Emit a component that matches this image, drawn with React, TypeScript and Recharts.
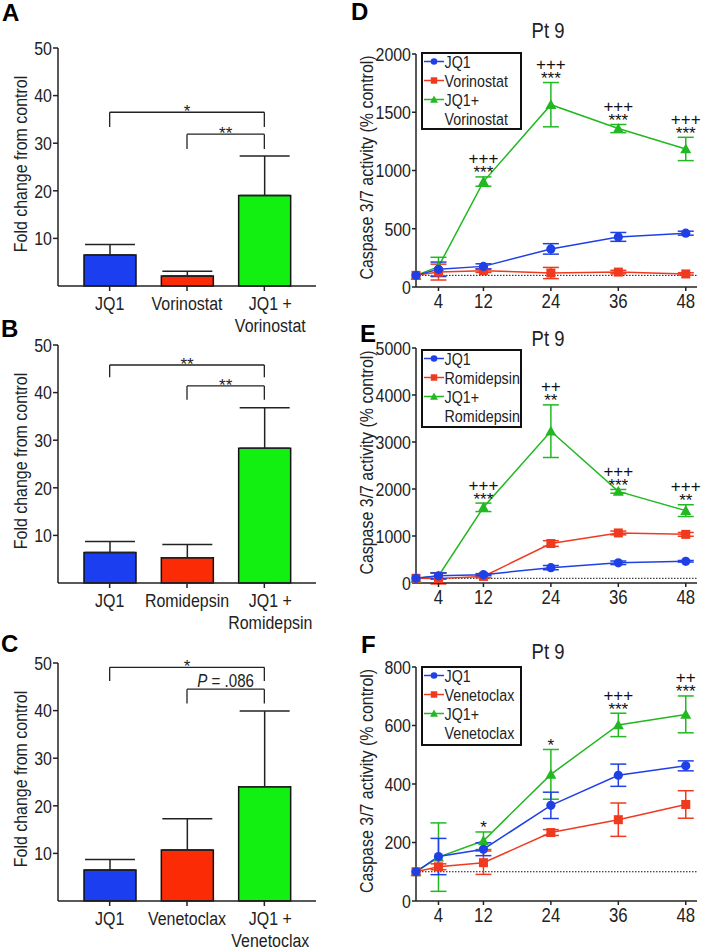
import { Bar, BarChart, Cell, ErrorBar, LabelList, Line, LineChart, ReferenceLine, XAxis, YAxis } from 'recharts';

const SANS = '"Liberation Sans", Arial, sans-serif';
const INK = '#222';
const SX = 0.84; // squeeze Liberation Sans to look like Arial Narrow

// A–C: fold change from control (mean, SEM)
const catsA = ['JQ1', 'Vorinostat', 'JQ1 + Vorinostat'];
const meanA = [6.5, 2.1, 19.0];
const semA = [2.2, 1.0, 8.3];

const catsB = ['JQ1', 'Romidepsin', 'JQ1 + Romidepsin'];
const meanB = [6.4, 5.3, 28.3];
const semB = [2.3, 2.8, 8.5];

const catsC = ['JQ1', 'Venetoclax', 'JQ1 + Venetoclax'];
const meanC = [6.5, 10.7, 24.0];
const semC = [2.2, 6.6, 15.9];

const bracketsA = [
  { from: 0, to: 2, y: 36.5, drop: 3.1, text: '*' },
  { from: 1, to: 2, y: 31.9, drop: 3.1, text: '**' },
];
const bracketsB = [
  { from: 0, to: 2, y: 45.8, drop: 2.6, text: '**' },
  { from: 1, to: 2, y: 41.4, drop: 2.9, text: '**' },
];
const bracketsC = [
  { from: 0, to: 2, y: 49.1, drop: 2.9, text: '*' },
  { from: 1, to: 2, y: 44.5, drop: 3.0, text: 'P = .086' },
];

const barTicks = [10, 20, 30, 40, 50];
const barColors = ['#1b3ef0', '#fb2b05', '#12f012'];

// D–F: caspase 3/7 activity, Pt 9
const hours = [0, 4, 12, 24, 36, 48];
const hourTicks = [4, 12, 24, 36, 48];

const jq1Mean = [100, 152, 177, 327, 430, 462];
const jq1Err = [0, 62, 22, 45, 38, 17];

const vorMean = [100, 128, 140, 120, 128, 112];
const vorErr = [0, 68, 15, 48, 15, 10];
const jq1VorMean = [100, 175, 905, 1565, 1360, 1185];
const jq1VorErr = [0, 80, 40, 190, 35, 100];
const vorPlus = ['', '', '+++', '+++', '+++', '+++'];
const vorStars = ['', '', '***', '***', '***', '***'];

const romiMean = [100, 95, 140, 840, 1065, 1035];
const romiErr = [0, 115, 30, 60, 40, 40];
const jq1RomiMean = [100, 150, 1610, 3230, 1950, 1540];
const jq1RomiErr = [0, 70, 90, 560, 40, 125];
const romiPlus = ['', '', '+++', '++', '+++', '+++'];
const romiStars = ['', '', '***', '**', '***', '**'];

const venMean = [100, 117, 131, 234, 278, 330];
const venErr = [0, 10, 40, 10, 57, 47];
const jq1VenMean = [100, 150, 206, 433, 602, 638];
const jq1VenErr = [0, 117, 30, 85, 40, 63];
const venPlus = ['', '', '', '', '+++', '++'];
const venStars = ['', '', '*', '*', '***', '***'];

const lineColors = ['#1f40e6', '#f03a1f', '#22b822'];
type Shape = 'circle' | 'square' | 'triangle';
const shapes: Shape[] = ['circle', 'square', 'triangle'];

const panelLetters = [
  { t: 'A', x: 2, y: 21 },
  { t: 'B', x: 1, y: 337 },
  { t: 'C', x: 1, y: 652 },
  { t: 'D', x: 351, y: 20 },
  { t: 'E', x: 360, y: 342 },
  { t: 'F', x: 361, y: 653 },
];
const titles = [
  { t: 'Pt 9', y: 38 },
  { t: 'Pt 9', y: 346 },
  { t: 'Pt 9', y: 659 },
];

function NText({ x, y, anchor = 'start', size = 19, dy = 0, rotate = 0, baseline, children }: any) {
  return (
    <text
      transform={`translate(${x},${y}) rotate(${rotate}) scale(${SX},1)`}
      textAnchor={anchor}
      dominantBaseline={baseline}
      dy={dy}
      fontSize={size}
      fontFamily={SANS}
      fill={INK}
    >
      {children}
    </text>
  );
}

const YTick = (p: any) => (
  <NText x={p.x} y={p.y} anchor="end" dy="0.355em">
    {p.payload.value}
  </NText>
);

const XTick = (p: any) => (
  <NText x={p.x} y={p.y} anchor="middle" dy="0.71em" size={20}>
    {p.payload.value}
  </NText>
);

const yLabel = (text: string, cxOff: number, dy: number) => (p: any) => {
  const vb = p.viewBox;
  return (
    <NText x={vb.x + cxOff} y={vb.y + vb.height / 2 + dy} rotate={-90} anchor="middle" baseline="central">
      {text}
    </NText>
  );
};

const CatTick = (p: any) => {
  const label: string = p.payload.value;
  const k = label.indexOf('+');
  const lines = k >= 0 ? [label.slice(0, k + 1), label.slice(k + 1).trim()] : [label];
  const dx = lines.length > 1 ? 6 : 0;
  return (
    <NText x={p.x + dx} y={p.y} anchor="middle">
      {lines.map((l, i) => (
        <tspan key={i} x={0} dy={i === 0 ? 17 : 22}>
          {l}
        </tspan>
      ))}
    </NText>
  );
};

const bracketLabel = (text: string) => (p: any) => {
  const vb = p.viewBox;
  const cx = vb.x + vb.width / 2;
  if (text.startsWith('P')) {
    return (
      <NText x={cx} y={vb.y - 2} anchor="middle" size={18}>
        <tspan fontStyle="italic">P</tspan>
        {text.slice(1)}
      </NText>
    );
  }
  return (
    <text x={cx} y={vb.y + 5} textAnchor="middle" fill={INK} fontSize={17} fontFamily={SANS}>
      {text}
    </text>
  );
};

type Bracket = { from: number; to: number; y: number; drop: number; text: string };

function BarPanel({ cats, mean, sem, brackets, top }: { cats: string[]; mean: number[]; sem: number[]; brackets: Bracket[]; top: number }) {
  const data = cats.map((c, i) => ({ cat: c, v: mean[i], err: [0, sem[i]] }));
  const line = { stroke: INK, strokeWidth: 1.3 };
  return (
    <div style={{ position: 'absolute', left: 0, top }}>
      <BarChart width={330} height={340} data={data} margin={{ top: 48, right: 14, bottom: 10, left: 0 }}>
        <XAxis
          dataKey="cat"
          height={44}
          interval={0}
          padding={{ left: 13, right: 13 }}
          tickSize={5}
          tickMargin={2}
          axisLine={{ stroke: INK, strokeWidth: 1.5 }}
          tickLine={{ stroke: INK, strokeWidth: 1.5 }}
          tick={(t: any) => <CatTick {...t} />}
        />
        <YAxis
          width={58}
          domain={[0, 50]}
          ticks={barTicks}
          tickSize={5}
          tickMargin={1}
          axisLine={{ stroke: INK, strokeWidth: 1.5 }}
          tickLine={{ stroke: INK, strokeWidth: 1.5 }}
          tick={(t: any) => <YTick {...t} />}
          label={{ content: yLabel('Fold change from control', 21, -3) }}
        />
        <Bar dataKey="v" barSize={52} stroke="#111" strokeWidth={1.5} isAnimationActive={false}>
          {data.map((_, i) => (
            <Cell key={i} fill={barColors[i]} />
          ))}
          <ErrorBar dataKey="err" width={25} stroke={INK} strokeWidth={1.5} direction="y" />
        </Bar>
        {brackets.flatMap((b, k) => [
          <ReferenceLine
            key={`h${k}`}
            segment={[{ x: cats[b.from], y: b.y }, { x: cats[b.to], y: b.y }]}
            {...line}
            label={{ content: bracketLabel(b.text) }}
          />,
          <ReferenceLine key={`l${k}`} segment={[{ x: cats[b.from], y: b.y }, { x: cats[b.from], y: b.y - b.drop }]} {...line} />,
          <ReferenceLine key={`r${k}`} segment={[{ x: cats[b.to], y: b.y }, { x: cats[b.to], y: b.y - b.drop }]} {...line} />,
        ])}
      </BarChart>
    </div>
  );
}

function Marker({ shape, color, x, y, s = 1 }: { shape: Shape; color: string; x: number; y: number; s?: number }) {
  if (shape === 'circle') return <circle cx={x} cy={y} r={4.6 * s} fill={color} />;
  if (shape === 'square') {
    const h = 4.5 * s;
    return <rect x={x - h} y={y - h} width={2 * h} height={2 * h} fill={color} />;
  }
  const h = 5.5 * s;
  return <polygon points={`${x},${y - h} ${x + h},${y + h * 0.8} ${x - h},${y + h * 0.8}`} fill={color} />;
}

const dotOf = (shape: Shape, color: string) => (p: any) => {
  if (p.cx == null || p.cy == null) return <g key={p.index} />;
  return <Marker key={p.index} shape={shape} color={color} x={p.cx} y={p.cy} />;
};

const AnnotLabel = (p: any) => {
  const v: string = p.value;
  if (!v || p.x == null || p.y == null) return null;
  const [plus, stars] = v.split('|');
  return (
    <g>
      {plus ? (
        <text x={p.x} y={p.y - 12.5} textAnchor="middle" fill="#111" fontSize={17} fontFamily={SANS}>
          {plus}
        </text>
      ) : null}
      {stars ? (
        <text x={p.x} y={p.y + 1.5} textAnchor="middle" fill="#111" fontSize={17} fontFamily={SANS}>
          {stars}
        </text>
      ) : null}
    </g>
  );
};

function LegendBox({ left, top, width, height, labels }: { left: number; top: number; width: number; height: number; labels: string[] }) {
  return (
    <svg width={width} height={height} style={{ position: 'absolute', left, top, overflow: 'visible' }}>
      <rect x={1} y={1} width={width - 2} height={height - 2} fill="#fff" stroke="#111" strokeWidth={2} />
      {labels.map((l, i) => {
        const cy = 9.5 + 19 * i;
        const c = lineColors[i];
        return (
          <g key={i}>
            {i < 3 ? (
              <>
                <line x1={3} x2={23} y1={cy} y2={cy} stroke={c} strokeWidth={1.5} />
                <Marker shape={shapes[i]} color={c} x={13} y={cy} s={0.72} />
              </>
            ) : null}
            <NText x={23.5} y={cy + 6} size={17}>
              {l}
            </NText>
          </g>
        );
      })}
    </svg>
  );
}

type LineProps = {
  top: number;
  marginTop: number;
  yMax: number;
  yTicks: number[];
  secMean: number[];
  secErr: number[];
  comboMean: number[];
  comboErr: number[];
  plus: string[];
  stars: string[];
  legend: string[];
  legendTop: number;
  legendH: number;
};

function LinePanel(p: LineProps) {
  const data = hours.map((h, i) => {
    const ann = p.plus[i] || p.stars[i] ? `${p.plus[i]}|${p.stars[i]}` : '';
    return {
      h,
      a: jq1Mean[i],
      aErr: jq1Err[i],
      b: p.secMean[i],
      bErr: p.secErr[i],
      c: p.comboMean[i],
      cErr: p.comboErr[i],
      annY: ann ? p.comboMean[i] + p.comboErr[i] : null,
      ann,
    };
  });
  const axis = { stroke: INK, strokeWidth: 1.5 };
  const series = [
    { key: 'c', err: 'cErr', i: 2 },
    { key: 'b', err: 'bErr', i: 1 },
    { key: 'a', err: 'aErr', i: 0 },
  ];
  return (
    <>
      <div style={{ position: 'absolute', left: 330, top: p.top }}>
        <LineChart width={372} height={340} data={data} margin={{ top: p.marginTop, right: 5, bottom: 10, left: 0 }}>
          <XAxis
            dataKey="h"
            type="number"
            domain={[0, 50]}
            ticks={hourTicks}
            height={43}
            tickSize={4}
            tickMargin={3}
            axisLine={axis}
            tickLine={axis}
            tick={(t: any) => <XTick {...t} />}
          />
          <YAxis
            width={86}
            domain={[0, p.yMax]}
            ticks={p.yTicks}
            allowDataOverflow
            tickSize={4}
            tickMargin={1}
            axisLine={axis}
            tickLine={axis}
            tick={(t: any) => <YTick {...t} />}
            label={{ content: yLabel('Caspase 3/7 activity (% control)', 37, -3) }}
          />
          <ReferenceLine y={100} stroke="#111" strokeWidth={1} strokeDasharray="1.5 1.5" />
          {series.map((s) => (
            <Line
              key={s.key}
              type="linear"
              dataKey={s.key}
              stroke={lineColors[s.i]}
              strokeWidth={1.5}
              dot={dotOf(shapes[s.i], lineColors[s.i])}
              activeDot={false}
              isAnimationActive={false}
            >
              <ErrorBar dataKey={s.err} width={8} stroke={lineColors[s.i]} strokeWidth={1.5} direction="y" />
            </Line>
          ))}
          <Line dataKey="annY" stroke="none" dot={false} activeDot={false} legendType="none" isAnimationActive={false}>
            <LabelList dataKey="ann" content={AnnotLabel} />
          </Line>
        </LineChart>
      </div>
      <LegendBox left={421} top={p.legendTop} width={101} height={p.legendH} labels={p.legend} />
    </>
  );
}

export default function App() {
  return (
    <div style={{ position: 'absolute', left: 0, top: 0, width: 702, height: 949, overflow: 'hidden', background: '#fff' }}>
      <BarPanel cats={catsA} mean={meanA} sem={semA} brackets={bracketsA} top={0} />
      <BarPanel cats={catsB} mean={meanB} sem={semB} brackets={bracketsB} top={297} />
      <BarPanel cats={catsC} mean={meanC} sem={semC} brackets={bracketsC} top={615} />

      <LinePanel
        top={0}
        marginTop={54}
        yMax={2000}
        yTicks={[0, 500, 1000, 1500, 2000]}
        secMean={vorMean}
        secErr={vorErr}
        comboMean={jq1VorMean}
        comboErr={jq1VorErr}
        plus={vorPlus}
        stars={vorStars}
        legend={['JQ1', 'Vorinostat', 'JQ1+', 'Vorinostat']}
        legendTop={52}
        legendH={78}
      />
      <LinePanel
        top={296}
        marginTop={52}
        yMax={5000}
        yTicks={[0, 1000, 2000, 3000, 4000, 5000]}
        secMean={romiMean}
        secErr={romiErr}
        comboMean={jq1RomiMean}
        comboErr={jq1RomiErr}
        plus={romiPlus}
        stars={romiStars}
        legend={['JQ1', 'Romidepsin', 'JQ1+', 'Romidepsin']}
        legendTop={349}
        legendH={79}
      />
      <LinePanel
        top={614}
        marginTop={53}
        yMax={800}
        yTicks={[0, 200, 400, 600, 800]}
        secMean={venMean}
        secErr={venErr}
        comboMean={jq1VenMean}
        comboErr={jq1VenErr}
        plus={venPlus}
        stars={venStars}
        legend={['JQ1', 'Venetoclax', 'JQ1+', 'Venetoclax']}
        legendTop={666}
        legendH={80}
      />

      <svg width={702} height={949} style={{ position: 'absolute', left: 0, top: 0, pointerEvents: 'none' }}>
        {panelLetters.map((l) => (
          <text key={l.t} x={l.x} y={l.y} fontSize={24} fontWeight="bold" fontFamily={SANS} fill="#000">
            {l.t}
          </text>
        ))}
        {titles.map((t, i) => (
          <NText key={i} x={548} y={t.y} anchor="middle" size={22}>
            {t.t}
          </NText>
        ))}
      </svg>
    </div>
  );
}
